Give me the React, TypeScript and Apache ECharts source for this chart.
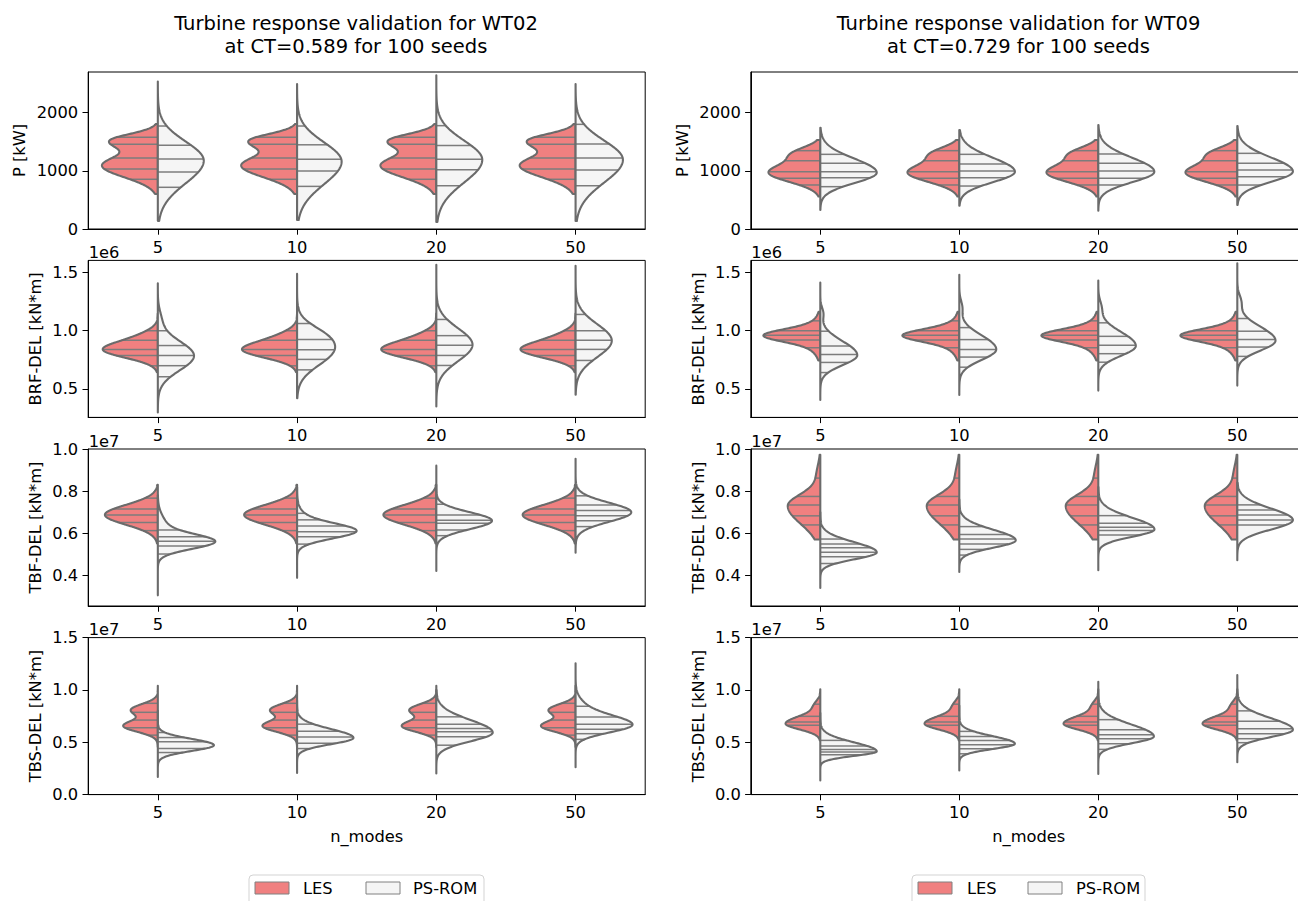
import React, { useEffect, useRef } from "react";
import * as echarts from "echarts";

// ---------------- data ----------------
const CATEGORIES = ["5", "10", "20", "50"];
const HUES = ["LES", "PS-ROM"];
const TURBINES = ["WT02", "WT09"];
const CT_VALUES = ["0.589", "0.729"];
const N_SEEDS = 100;
const X_NAME = "n_modes";
const Y_LABELS = ["P [kW]", "BRF-DEL [kN*m]", "TBF-DEL [kN*m]", "TBS-DEL [kN*m]"];
const Y_OFFSETS = ["", "1e6", "1e7", "1e7"];
const Y_RANGES = [[0, 2700], [0.256, 1.604], [0.2555, 1.0], [0, 1.5]];
const Y_TICKS = [[0, 1000, 2000], [0.5, 1.0, 1.5], [0.4, 0.6, 0.8, 1.0], [0.0, 0.5, 1.0, 1.5]];
const Y_DECIMALS = [0, 1, 1, 1];

// density components: [mean, sdBelow, sdAbove, half-width as fraction of category]
// ---- WT02 ----
const WT02_P_LES_RANGE = [602, 1806];
const WT02_P_LES_KDE = [[1090, 200, 180, 0.40], [1520, 130, 115, 0.325]];
const WT02_P_LES_STICKS = [855, 1032, 1221, 1457, 1577];
const WT02_P_ROM_RANGE = [[140, 2535], [156, 2492], [121, 2642], [138, 2492]];
const WT02_P_ROM_KDE = [[[1175, 390, 330, 0.33]], [[1160, 390, 330, 0.32]], [[1190, 390, 330, 0.33]], [[1190, 390, 330, 0.34]]];
const WT02_P_ROM_STICKS = [[717, 980, 1204, 1439, 1771], [733, 998, 1200, 1448, 1771], [744, 1021, 1200, 1436, 1777], [744, 1015, 1223, 1460, 1800]];

const WT02_BRF_LES_RANGE = [0.644, 1.148];
const WT02_BRF_LES_KDE = [[0.835, 0.068, 0.068, 0.38], [0.95, 0.06, 0.06, 0.09]];
const WT02_BRF_LES_STICKS = [0.699, 0.788, 0.84, 0.918, 1.0];
const WT02_BRF_ROM_RANGE = [[0.298, 1.408], [0.42, 1.488], [0.35, 1.567], [0.451, 1.558]];
const WT02_BRF_ROM_KDE = [
  [[0.785, 0.125, 0.125, 0.26], [1.1, 0.08, 0.08, 0.02]],
  [[0.84, 0.135, 0.135, 0.26], [0.98, 0.08, 0.08, 0.05]],
  [[0.88, 0.14, 0.14, 0.26]],
  [[0.915, 0.14, 0.14, 0.26]],
];
const WT02_BRF_ROM_STICKS = [[0.605, 0.7, 0.787, 0.873, 1.0], [0.664, 0.754, 0.837, 0.924, 1.062], [0.702, 0.788, 0.875, 0.958, 1.097], [0.745, 0.84, 0.918, 1.0, 1.14]];

const WT02_TBF_LES_RANGE = [0.552, 0.83];
const WT02_TBF_LES_KDE = [[0.688, 0.047, 0.047, 0.38]];
const WT02_TBF_LES_STICKS = [0.613, 0.652, 0.687, 0.716, 0.767];
const WT02_TBF_ROM_RANGE = [[0.306, 0.78], [0.389, 0.82], [0.422, 0.921], [0.508, 0.954]];
const WT02_TBF_ROM_KDE = [
  [[0.56, 0.034, 0.034, 0.39], [0.63, 0.05, 0.05, 0.06]],
  [[0.61, 0.035, 0.035, 0.4], [0.66, 0.045, 0.045, 0.05]],
  [[0.66, 0.04, 0.04, 0.4]],
  [[0.7, 0.045, 0.045, 0.4]],
];
const WT02_TBF_ROM_STICKS = [[0.502, 0.54, 0.563, 0.584, 0.616], [0.549, 0.584, 0.608, 0.635, 0.664, 0.695], [0.589, 0.616, 0.648, 0.662, 0.687, 0.738], [0.632, 0.66, 0.683, 0.708, 0.735, 0.778]];

const WT02_TBS_LES_RANGE = [0.456, 1.04];
const WT02_TBS_LES_KDE = [[0.655, 0.055, 0.055, 0.245], [0.81, 0.055, 0.055, 0.19]];
const WT02_TBS_LES_STICKS = [0.568, 0.638, 0.712, 0.786, 0.872];
const WT02_TBS_ROM_RANGE = [[0.168, 0.8], [0.207, 0.9], [0.201, 1.0], [0.262, 1.254]];
const WT02_TBS_ROM_KDE = [
  [[0.472, 0.055, 0.06, 0.403]],
  [[0.542, 0.06, 0.084, 0.405]],
  [[0.593, 0.084, 0.12, 0.405]],
  [[0.665, 0.072, 0.085, 0.395], [0.82, 0.09, 0.09, 0.06]],
];
const WT02_TBS_ROM_STICKS = [[0.402, 0.44, 0.504, 0.545, 0.593], [0.44, 0.49, 0.55, 0.606, 0.673], [0.472, 0.552, 0.6, 0.632, 0.673, 0.743], [0.528, 0.582, 0.624, 0.672, 0.742, 0.844]];

// ---- WT09 ----
const WT09_P_LES_RANGE = [560, 1530];
const WT09_P_LES_KDE = [[970, 160, 160, 0.37], [1300, 115, 115, 0.17]];
const WT09_P_LES_STICKS = [757, 871, 985, 1175, 1347];
const WT09_P_ROM_RANGE = [[327, 1742], [401, 1702], [315, 1788], [413, 1771]];
const WT09_P_ROM_KDE = [[[970, 180, 240, 0.406]], [[985, 180, 240, 0.4]], [[985, 180, 240, 0.403]], [[990, 180, 240, 0.4]]];
const WT09_P_ROM_STICKS = [[728, 883, 986, 1129, 1284], [739, 883, 997, 1117, 1284], [757, 871, 997, 1130, 1290], [756, 900, 1014, 1129, 1301]];

const WT09_BRF_LES_RANGE = [0.745, 1.163];
const WT09_BRF_LES_KDE = [[0.96, 0.05, 0.05, 0.29], [0.95, 0.1, 0.1, 0.12]];
const WT09_BRF_LES_STICKS = [0.854, 0.921, 0.961, 1.0, 1.085];
const WT09_BRF_ROM_RANGE = [[0.405, 1.414], [0.448, 1.48], [0.486, 1.431], [0.529, 1.58]];
const WT09_BRF_ROM_KDE = [
  [[0.79, 0.085, 0.12, 0.266], [1.15, 0.05, 0.05, 0.02]],
  [[0.84, 0.09, 0.12, 0.266], [1.2, 0.06, 0.06, 0.02]],
  [[0.87, 0.085, 0.12, 0.27], [1.2, 0.06, 0.06, 0.02]],
  [[0.915, 0.085, 0.12, 0.275], [1.25, 0.06, 0.06, 0.025]],
];
const WT09_BRF_ROM_STICKS = [[0.641, 0.728, 0.797, 0.869, 0.996], [0.687, 0.774, 0.84, 0.924, 1.027], [0.73, 0.803, 0.875, 0.952, 1.068], [0.78, 0.86, 0.924, 0.996, 1.105]];

const WT09_TBF_LES_RANGE = [0.571, 0.973];
const WT09_TBF_LES_KDE = [[0.73, 0.085, 0.055, 0.234], [0.88, 0.05, 0.05, 0.025]];
const WT09_TBF_LES_STICKS = [0.64, 0.683, 0.735, 0.775, 0.862];
const WT09_TBF_ROM_RANGE = [[0.341, 0.7], [0.417, 0.76], [0.425, 0.82], [0.473, 0.84]];
const WT09_TBF_ROM_KDE = [[[0.51, 0.033, 0.048, 0.406]], [[0.567, 0.035, 0.05, 0.406]], [[0.619, 0.035, 0.055, 0.404]], [[0.663, 0.045, 0.055, 0.4]]];
const WT09_TBF_ROM_STICKS = [[0.457, 0.489, 0.51, 0.532, 0.549, 0.573], [0.497, 0.524, 0.549, 0.573, 0.595, 0.632], [0.592, 0.613, 0.629, 0.648, 0.684], [0.64, 0.663, 0.687, 0.711, 0.735]];

const WT09_TBS_LES_RANGE = [0.518, 1.007];
const WT09_TBS_LES_KDE = [[0.678, 0.055, 0.07, 0.25], [0.85, 0.05, 0.05, 0.04]];
const WT09_TBS_LES_STICKS = [0.524, 0.662, 0.694, 0.748, 0.864];
const WT09_TBS_ROM_RANGE = [[0.134, 0.78], [0.23, 0.85], [0.198, 1.078], [0.31, 1.142]];
const WT09_TBS_ROM_KDE = [[[0.413, 0.043, 0.085, 0.406]], [[0.486, 0.05, 0.072, 0.4]], [[0.556, 0.065, 0.112, 0.4]], [[0.62, 0.07, 0.11, 0.4]]];
const WT09_TBS_ROM_STICKS = [[0.38, 0.406, 0.432, 0.464, 0.518], [0.39, 0.438, 0.476, 0.518, 0.556, 0.604], [0.432, 0.486, 0.534, 0.572, 0.62, 0.716], [0.496, 0.534, 0.582, 0.63, 0.7, 0.8]];

// ---------------- assembly ----------------
const PANELS = [
  [
    { les: [WT02_P_LES_RANGE, WT02_P_LES_KDE, WT02_P_LES_STICKS], rom: [WT02_P_ROM_RANGE, WT02_P_ROM_KDE, WT02_P_ROM_STICKS] },
    { les: [WT02_BRF_LES_RANGE, WT02_BRF_LES_KDE, WT02_BRF_LES_STICKS], rom: [WT02_BRF_ROM_RANGE, WT02_BRF_ROM_KDE, WT02_BRF_ROM_STICKS] },
    { les: [WT02_TBF_LES_RANGE, WT02_TBF_LES_KDE, WT02_TBF_LES_STICKS], rom: [WT02_TBF_ROM_RANGE, WT02_TBF_ROM_KDE, WT02_TBF_ROM_STICKS] },
    { les: [WT02_TBS_LES_RANGE, WT02_TBS_LES_KDE, WT02_TBS_LES_STICKS], rom: [WT02_TBS_ROM_RANGE, WT02_TBS_ROM_KDE, WT02_TBS_ROM_STICKS] },
  ],
  [
    { les: [WT09_P_LES_RANGE, WT09_P_LES_KDE, WT09_P_LES_STICKS], rom: [WT09_P_ROM_RANGE, WT09_P_ROM_KDE, WT09_P_ROM_STICKS] },
    { les: [WT09_BRF_LES_RANGE, WT09_BRF_LES_KDE, WT09_BRF_LES_STICKS], rom: [WT09_BRF_ROM_RANGE, WT09_BRF_ROM_KDE, WT09_BRF_ROM_STICKS] },
    { les: [WT09_TBF_LES_RANGE, WT09_TBF_LES_KDE, WT09_TBF_LES_STICKS], rom: [WT09_TBF_ROM_RANGE, WT09_TBF_ROM_KDE, WT09_TBF_ROM_STICKS] },
    { les: [WT09_TBS_LES_RANGE, WT09_TBS_LES_KDE, WT09_TBS_LES_STICKS], rom: [WT09_TBS_ROM_RANGE, WT09_TBS_ROM_KDE, WT09_TBS_ROM_STICKS] },
  ],
];

// ---------------- style / layout ----------------
const FONT = "DejaVu Sans";
const FS = 16.3;
const TITLE_FS = 19.5;
const FILLS = ["#F08080", "#F5F5F5"];
const EDGE = "#6b6b6b";
const STICK = "#7c7c7c";
const COL_LEFT = [88.2, 750.8];
const GRID_W = [557, 556];
const ROW_TOP = [72, 260.4, 449, 637.6];
const GRID_H = 157;
const TITLE_X = [356, 1018.5];
const YLABEL_X = [[19.5, 35, 35, 35], [682, 698, 698, 698]];

function density(kde: number[][], v: number) {
  let s = 0;
  for (const [m, sl, sh, a] of kde) {
    const sd = v < m ? sl : sh;
    const z = (v - m) / sd;
    s += a * Math.exp(-0.5 * z * z);
  }
  return s;
}

function makeRenderItem(panel: any, hueIdx: number) {
  return (params: any, api: any) => {
    const k = params.dataIndex;
    const src = hueIdx === 0 ? panel.les : panel.rom;
    const range = hueIdx === 0 ? src[0] : src[0][k];
    const kde = hueIdx === 0 ? src[1] : src[1][k];
    const sticks = hueIdx === 0 ? src[2] : src[2][k];
    const side = hueIdx === 0 ? -1 : 1;
    const catW = api.size([1, 0])[0];
    const cx = api.coord([k, range[0]])[0];
    const yOf = (v: number) => api.coord([k, v])[1];
    const [lo, hi] = range;
    const pts: number[][] = [[cx, yOf(lo)]];
    const N = 160;
    for (let i = 0; i <= N; i++) {
      const v = lo + ((hi - lo) * i) / N;
      pts.push([cx + side * density(kde, v) * catW, yOf(v)]);
    }
    pts.push([cx, yOf(hi)]);
    const children: any[] = [
      { type: "polygon", shape: { points: pts }, style: { fill: FILLS[hueIdx], stroke: "none" } },
    ];
    for (const s of sticks) {
      const y = yOf(s);
      children.push({
        type: "line",
        shape: { x1: cx, y1: y, x2: cx + side * density(kde, s) * catW, y2: y },
        style: { stroke: STICK, lineWidth: 1.5 },
      });
    }
    children.push({
      type: "polygon",
      shape: { points: pts },
      style: { fill: "none", stroke: EDGE, lineWidth: 2.1, lineJoin: "round" },
    });
    return { type: "group", children };
  };
}

function buildOption() {
  const grid: any[] = [];
  const xAxis: any[] = [];
  const yAxis: any[] = [];
  const series: any[] = [];
  const graphic: any[] = [];
  const txt = (text: string, x: number, y: number, size: number, extra: any = {}) => ({
    type: "text",
    x,
    y,
    silent: true,
    ...extra,
    style: { text, fill: "#000", fontSize: size, fontFamily: FONT, align: "center", verticalAlign: "middle", ...(extra.style || {}) },
  });

  for (let col = 0; col < 2; col++) {
    for (let row = 0; row < 4; row++) {
      const idx = col * 4 + row;
      const [yMin, yMax] = Y_RANGES[row];
      grid.push({
        left: COL_LEFT[col],
        top: ROW_TOP[row],
        width: GRID_W[col],
        height: GRID_H,
        show: true,
        borderColor: "#000",
        borderWidth: 1,
        backgroundColor: "#fff",
        containLabel: false,
        outerBoundsMode: "none",
      });
      xAxis.push({
        type: "category",
        gridIndex: idx,
        data: CATEGORIES,
        axisLine: { show: true, lineStyle: { color: "#000", width: 1 } },
        axisTick: { show: true, alignWithLabel: true, length: 5.7, lineStyle: { color: "#000", width: 1 } },
        axisLabel: { fontSize: FS, fontFamily: FONT, color: "#000", margin: 10 },
        splitLine: { show: false },
      });
      const dec = Y_DECIMALS[row];
      yAxis.push({
        type: "value",
        gridIndex: idx,
        min: yMin,
        max: yMax,
        axisLine: { show: true, lineStyle: { color: "#000", width: 1 } },
        axisTick: { show: true, length: 5.7, lineStyle: { color: "#000", width: 1 }, customValues: Y_TICKS[row] },
        axisLabel: {
          fontSize: FS,
          fontFamily: FONT,
          color: "#000",
          margin: 10,
          customValues: Y_TICKS[row],
          formatter: (v: number) => v.toFixed(dec),
        },
        splitLine: { show: false },
      });
      const panel = PANELS[col][row];
      const mid = (yMin + yMax) / 2;
      for (let h = 0; h < 2; h++) {
        series.push({
          type: "custom",
          name: HUES[h],
          xAxisIndex: idx,
          yAxisIndex: idx,
          silent: true,
          data: CATEGORIES.map((_, k) => [k, mid]),
          renderItem: makeRenderItem(panel, h),
        });
      }
      graphic.push(
        txt(Y_LABELS[row], YLABEL_X[col][row], ROW_TOP[row] + GRID_H / 2, FS, { rotation: Math.PI / 2 })
      );
      if (Y_OFFSETS[row]) {
        graphic.push(
          txt(Y_OFFSETS[row], COL_LEFT[col] + 0.5, ROW_TOP[row], FS, { style: { align: "left", verticalAlign: "bottom" } })
        );
      }
    }
    graphic.push(txt(`Turbine response validation for ${TURBINES[col]}`, TITLE_X[col], 23.7, TITLE_FS));
    graphic.push(txt(`at CT=${CT_VALUES[col]} for ${N_SEEDS} seeds`, TITLE_X[col], 46.3, TITLE_FS));
    graphic.push(txt(X_NAME, COL_LEFT[col] + GRID_W[col] / 2, 836.7, FS));
  }

  const LEG = [
    { box: 249, p1: 255, t1: 303, p2: 366, t2: 413, w: 235 },
    { box: 912, p1: 918, t1: 967, p2: 1028, t2: 1076, w: 233 },
  ];
  for (const L of LEG) {
    graphic.push({ type: "rect", silent: true, shape: { x: L.box, y: 875, width: L.w, height: 36, r: 4 }, style: { fill: "#fff", stroke: "#d3d3d3", lineWidth: 1 } });
    graphic.push({ type: "rect", silent: true, shape: { x: L.p1, y: 882, width: 34, height: 12 }, style: { fill: FILLS[0], stroke: "#808080", lineWidth: 1 } });
    graphic.push({ type: "rect", silent: true, shape: { x: L.p2, y: 882, width: 34, height: 12 }, style: { fill: FILLS[1], stroke: "#808080", lineWidth: 1 } });
    graphic.push(txt(HUES[0], L.t1, 888.3, FS, { style: { align: "left" } }));
    graphic.push(txt(HUES[1], L.t2, 888.3, FS, { style: { align: "left" } }));
  }

  return {
    animation: false,
    backgroundColor: "#fff",
    textStyle: { fontFamily: FONT },
    grid,
    xAxis,
    yAxis,
    series,
    graphic: { elements: graphic },
  };
}

export default function App() {
  const ref = useRef<HTMLDivElement>(null);
  useEffect(() => {
    const chart = echarts.init(ref.current as HTMLDivElement, null, { renderer: "svg", width: 1298, height: 901 });
    chart.setOption(buildOption() as any);
    return () => chart.dispose();
  }, []);
  return (
    <div
      ref={ref}
      style={{ position: "absolute", left: 0, top: 0, width: 1298, height: 901, overflow: "hidden", background: "#fff" }}
    />
  );
}
